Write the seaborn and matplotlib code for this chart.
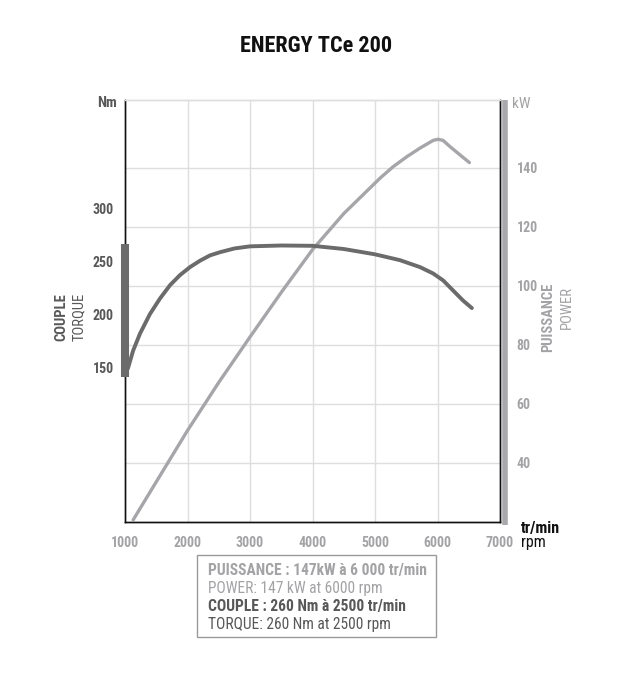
import matplotlib
matplotlib.use("Agg")
import matplotlib.pyplot as plt
from matplotlib.lines import Line2D
from matplotlib.patches import Rectangle
import seaborn as sns
import pandas as pd

sns.set_theme(style="white")
plt.rcParams['font.family'] = ['Roboto Condensed', 'DejaVu Sans']
plt.rcParams['font.stretch'] = 'condensed'

# ---- data ----
torque_rpm = [1000, 1050, 1130, 1240, 1400, 1560, 1720, 1880, 2040, 2200, 2360,
              2520, 2750, 3000, 3500, 4000, 4500, 5000, 5400, 5720, 5930,
              6090, 6250, 6410, 6550]
torque_nm = [143, 150, 166, 182, 200.5, 215, 227.5, 237, 244.5, 250.5, 255.5,
             258.5, 262, 264, 264.8, 264.5, 261.5, 256.5, 251, 244.5, 238.5,
             232, 222.5, 213, 206]
power_rpm = [1130, 1500, 2000, 2500, 3000, 3500, 4000, 4500, 5080, 5290, 5510,
             5720, 5930, 6010, 6090, 6200, 6360, 6510]
power_kw = [20.7, 33.6, 51, 67.3, 82.7, 97.8, 112.3, 124.5, 136.5, 140.4, 143.8,
            146.7, 149.3, 149.7, 149.3, 147.2, 144.4, 141.8]

rpm_ticks = [1000, 2000, 3000, 4000, 5000, 6000, 7000]
torque_ticks = [150, 200, 250, 300]
power_ticks = [40, 60, 80, 100, 120, 140]

title = "ENERGY TCe 200"
box_lines = [
    ("PUISSANCE : 147kW à 6 000 tr/min", "bold", "#a3a3a6"),
    ("POWER: 147 kW at 6000 rpm", "normal", "#a3a3a6"),
    ("COUPLE : 260 Nm à 2500 tr/min", "bold", "#585858"),
    ("TORQUE: 260 Nm at 2500 rpm", "normal", "#585858"),
]

dark = "#6b6b6b"
light = "#a6a6aa"
grid_c = "#dedede"

df_t = pd.DataFrame({"rpm": torque_rpm, "torque": torque_nm})
df_p = pd.DataFrame({"rpm": power_rpm, "power": power_kw})

W, H = 633, 696
fig = plt.figure(figsize=(W / 100, H / 100), dpi=100)
L, R, T, B = 125, 500, 100, 522
ax = fig.add_axes([L / W, 1 - B / H, (R - L) / W, (B - T) / H])
ax2 = ax.twinx()

ax2.set_ylim(20, 163)
ax.set_ylim(5, 401.5)
ax.set_xlim(1000, 7000)
for x in rpm_ticks[1:-1]:
    ax2.axvline(x, color=grid_c, lw=1.0, zorder=0)
for y in power_ticks:
    ax2.axhline(y, color=grid_c, lw=1.0, zorder=0)

sns.lineplot(data=df_p, x="rpm", y="power", ax=ax2, color=light, lw=2.4,
             solid_capstyle="round", solid_joinstyle="round", zorder=3)
sns.lineplot(data=df_t, x="rpm", y="torque", ax=ax, color=dark, lw=2.8,
             solid_capstyle="round", solid_joinstyle="round", zorder=4)
ax.set_zorder(ax2.get_zorder() + 1)
ax.patch.set_visible(False)

# torque range bar on left spine
tmin, tmax = min(torque_nm) - 1.5, max(torque_nm) + 1.5
ax.plot([1000, 1000], [tmin, tmax], color=dark, lw=5.8, solid_capstyle="butt",
        clip_on=False, zorder=5)

# spines
for a in (ax, ax2):
    a.spines['top'].set_color(grid_c)
    a.spines['left'].set_color("#111111")
    a.spines['right'].set_color("#111111")
    a.spines['bottom'].set_color("#111111")
    for s in a.spines.values():
        s.set_linewidth(1.0)
fig.add_artist(Line2D([504.5 / W, 504.5 / W], [1 - 100 / H, 1 - 525 / H],
                      transform=fig.transFigure, color="#a9a9ad", lw=4.0,
                      solid_capstyle="butt"))

# ticks
tick_fs = 10
ax.set_xticks(rpm_ticks)
ax.set_xticklabels([str(v) for v in rpm_ticks], color="#a3a3a6",
                   fontsize=tick_fs, fontweight="bold")
ax.set_yticks(torque_ticks)
ax.set_yticklabels([str(v) for v in torque_ticks], color="#585858",
                   fontsize=tick_fs, fontweight="bold")
ax2.set_yticks(power_ticks)
ax2.set_yticklabels([str(v) for v in power_ticks], color="#a3a3a6",
                    fontsize=tick_fs, fontweight="bold")
ax.tick_params(axis="x", length=0, pad=10)
ax.tick_params(axis="y", length=0, pad=8)
ax2.tick_params(axis="y", length=0, pad=12)
ax.set_xlabel("")
ax.set_ylabel("")
ax2.set_ylabel("")

def ftext(x, y, s, **kw):
    fig.text(x / W, 1 - y / H, s, **kw)

ftext(316, 46, title, ha="center", va="center", fontsize=16,
      fontweight="bold", color="#111111")
ftext(117, 103, "Nm", ha="right", va="center", fontsize=10.5,
      fontweight="bold", color="#585858")
ftext(512, 104, "kW", ha="left", va="center", fontsize=11,
      color="#a3a3a6")
ftext(61, 293, "COUPLE", rotation=90, ha="center", va="top", fontsize=10.5,
      fontweight="bold", color="#585858")
ftext(79, 293, "TORQUE", rotation=90, ha="center", va="top", fontsize=10.5,
      color="#585858")
ftext(548, 283, "PUISSANCE", rotation=90, ha="center", va="top", fontsize=10.5,
      fontweight="bold", color="#a3a3a6")
ftext(567, 286, "POWER", rotation=90, ha="center", va="top", fontsize=10.5,
      color="#a3a3a6")
ftext(521, 528, "tr/min", ha="left", va="center", fontsize=11.5,
      fontweight="bold", color="#111111")
ftext(521, 542, "rpm", ha="left", va="center", fontsize=11.5,
      color="#111111")

# info box
fig.add_artist(Rectangle((197 / W, 1 - 637 / H), (436 - 197) / W, (637 - 555) / H,
                         transform=fig.transFigure, fill=False,
                         edgecolor="#9a9a9a", lw=1.0))
ys = [570, 588, 606, 625]
for (s, wgt, c), y in zip(box_lines, ys):
    ftext(208, y, s, ha="left", va="center", fontsize=11.2, fontweight=wgt,
          color=c)

fig.savefig("out.png", dpi=100)
